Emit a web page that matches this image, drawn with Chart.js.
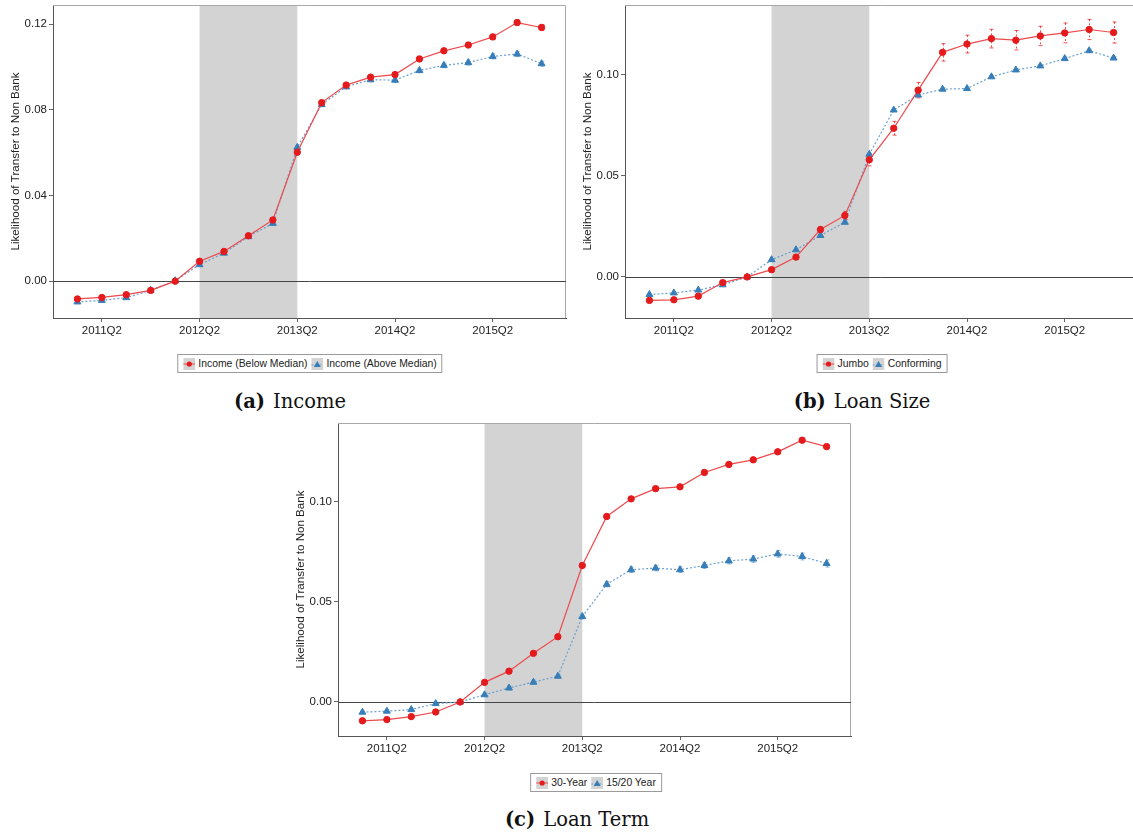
<!DOCTYPE html>
<html>
<head>
<meta charset="utf-8">
<script src="https://cdn.jsdelivr.net/npm/chart.js@4.4.1/dist/chart.umd.min.js"></script>
<style>
  html, body { margin: 0; padding: 0; background: #fff; }
  body { width: 1133px; height: 838px; position: relative; overflow: hidden; font-family: "Liberation Sans", Arial, sans-serif; }
  canvas { position: absolute; }
  .legend { position: absolute; height: 19px; box-sizing: border-box; border: 1px solid #9a9a9a; background: #fff;
            font-size: 10.4px; color: #222; display: flex; align-items: center; padding: 0 3px; white-space: nowrap; transform: translateX(-50%); }
  .legend svg { margin: 0 3px 0 2px; }
  .legend span { margin-right: 2px; }
  .caption { position: absolute; font-family: "DejaVu Serif", serif; font-size: 19.5px; color: #111; transform: translateX(-50%); white-space: nowrap; }
  .caption b { margin-right: 8px; }
</style>
</head>
<body>
<canvas id="chartA" width="572" height="348" style="left:0px;top:0px"></canvas>
<canvas id="chartB" width="580" height="348" style="left:572px;top:0px"></canvas>
<canvas id="chartC" width="572" height="348" style="left:285px;top:418px"></canvas>

<div class="legend" id="legA" style="left:310px;top:354px"></div>
<div class="legend" id="legB" style="left:882px;top:354px"></div>
<div class="legend" id="legC" style="left:596px;top:773px"></div>

<div class="caption" style="left:290px;top:390px"><b>(a)</b>Income</div>
<div class="caption" style="left:862px;top:390px"><b>(b)</b>Loan Size</div>
<div class="caption" style="left:577px;top:808px"><b>(c)</b>Loan Term</div>

<script>
const QUARTERS = ['2011Q1', '2011Q2', '2011Q3', '2011Q4', '2012Q1', '2012Q2', '2012Q3', '2012Q4',
                  '2013Q1', '2013Q2', '2013Q3', '2013Q4', '2014Q1', '2014Q2', '2014Q3', '2014Q4',
                  '2015Q1', '2015Q2', '2015Q3', '2015Q4'];
const TICK_POS = [1, 5, 9, 13, 17];
const SHADE = [5, 9];
const Y_TITLE = 'Likelihood of Transfer to Non Bank';

// (a) Income
const INC_LABELS = ['Income (Below Median)', 'Income (Above Median)'];
const INC_BELOW = [-0.0083, -0.0076, -0.0063, -0.0043, 0.0000, 0.0093, 0.0139, 0.0212, 0.0286, 0.0602,
                   0.0834, 0.0916, 0.0953, 0.0965, 0.1038, 0.1076, 0.1103, 0.1141, 0.1208, 0.1185];
const INC_BELOW_ERR = [0.0005, 0.0005, 0.0005, 0.0005, 0, 0.0006, 0.0006, 0.0007, 0.0008, 0.0010,
                       0.0010, 0.0010, 0.0011, 0.0011, 0.0012, 0.0012, 0.0012, 0.0013, 0.0013, 0.0013];
const INC_ABOVE = [-0.0097, -0.0090, -0.0077, -0.0043, 0.0002, 0.0077, 0.0131, 0.0208, 0.0270, 0.0625,
                   0.0825, 0.0908, 0.0941, 0.0939, 0.0984, 0.1008, 0.1021, 0.1050, 0.1061, 0.1016];
const INC_ABOVE_ERR = [0.0005, 0.0005, 0.0005, 0.0005, 0.0005, 0.0006, 0.0006, 0.0007, 0.0008, 0.0010,
                       0.0010, 0.0010, 0.0010, 0.0011, 0.0011, 0.0011, 0.0012, 0.0012, 0.0012, 0.0012];
const INC_Y = { min: -0.0172, max: 0.1290, ticks: [0, 0.04, 0.08, 0.12] };

// (b) Loan Size
const SIZE_LABELS = ['Jumbo', 'Conforming'];
const SIZE_JUMBO = [-0.0116, -0.0113, -0.0095, -0.0028, 0.0000, 0.0036, 0.0098, 0.0234, 0.0304, 0.0579,
                    0.0735, 0.0923, 0.1110, 0.1151, 0.1178, 0.1170, 0.1191, 0.1206, 0.1223, 0.1208];
const SIZE_JUMBO_ERR = [0.0010, 0.0010, 0.0010, 0.0010, 0, 0.0010, 0.0012, 0.0015, 0.0020, 0.0030,
                        0.0034, 0.0038, 0.0043, 0.0044, 0.0046, 0.0048, 0.0048, 0.0049, 0.0050, 0.0052];
const SIZE_CONF = [-0.0087, -0.0079, -0.0065, -0.0039, 0.0000, 0.0085, 0.0134, 0.0205, 0.0270, 0.0606,
                   0.0825, 0.0899, 0.0928, 0.0931, 0.0989, 0.1023, 0.1043, 0.1079, 0.1118, 0.1082];
const SIZE_CONF_ERR = [0.0004, 0.0004, 0.0004, 0.0004, 0, 0.0005, 0.0005, 0.0005, 0.0006, 0.0006,
                       0.0007, 0.0007, 0.0007, 0.0007, 0.0007, 0.0007, 0.0007, 0.0008, 0.0008, 0.0008];
const SIZE_Y = { min: -0.0203, max: 0.1344, ticks: [0, 0.05, 0.10] };

// (c) Loan Term
const TERM_LABELS = ['30-Year', '15/20 Year'];
const TERM_30 = [-0.0094, -0.0088, -0.0073, -0.0050, 0.0000, 0.0098, 0.0154, 0.0243, 0.0326, 0.0682,
                 0.0927, 0.1015, 0.1066, 0.1075, 0.1147, 0.1187, 0.1210, 0.1250, 0.1308, 0.1276];
const TERM_30_ERR = [0.0005, 0.0005, 0.0005, 0.0005, 0, 0.0006, 0.0006, 0.0007, 0.0007, 0.0008,
                     0.0008, 0.0009, 0.0009, 0.0009, 0.0010, 0.0010, 0.0010, 0.0011, 0.0011, 0.0011];
const TERM_1520 = [-0.0051, -0.0046, -0.0038, -0.0008, 0.0000, 0.0036, 0.0070, 0.0099, 0.0129, 0.0427,
                   0.0588, 0.0661, 0.0669, 0.0661, 0.0682, 0.0705, 0.0714, 0.0740, 0.0727, 0.0692];
const TERM_1520_ERR = [0.0006, 0.0006, 0.0006, 0.0006, 0, 0.0008, 0.0009, 0.0010, 0.0010, 0.0012,
                       0.0013, 0.0014, 0.0014, 0.0014, 0.0015, 0.0015, 0.0016, 0.0017, 0.0017, 0.0018];
const TERM_Y = { min: -0.0170, max: 0.1394, ticks: [0, 0.05, 0.10] };

const RED = '#e41a1c';
const BLUE = '#377eb8';

// shading, zero line, plot frame and error bars
const panelPlugin = {
  id: 'panel',
  beforeDatasetsDraw(chart) {
    const { ctx, chartArea: a, scales: { x, y } } = chart;
    ctx.save();
    const x0 = x.getPixelForValue(SHADE[0]);
    const x1 = x.getPixelForValue(SHADE[1]);
    ctx.fillStyle = '#d3d3d3';
    ctx.fillRect(x0, a.top, x1 - x0, a.bottom - a.top);

    ctx.strokeStyle = '#a8a8a8';
    ctx.lineWidth = 1;
    ctx.beginPath();
    ctx.moveTo(a.left, a.top + 0.5);
    ctx.lineTo(a.right - 0.5, a.top + 0.5);
    ctx.lineTo(a.right - 0.5, a.bottom);
    ctx.stroke();

    const y0 = Math.round(y.getPixelForValue(0)) + 0.5;
    ctx.strokeStyle = '#444';
    ctx.beginPath();
    ctx.moveTo(a.left, y0);
    ctx.lineTo(a.right, y0);
    ctx.stroke();

    chart.data.datasets.forEach(ds => {
      if (!ds.err) return;
      ctx.strokeStyle = ds.errColor;
      ctx.lineWidth = 1;
      ds.data.forEach((p, i) => {
        const e = ds.err[i];
        if (!e) return;
        const px = Math.round(x.getPixelForValue(p.x)) + 0.5;
        const yt = y.getPixelForValue(p.y + e);
        const yb = y.getPixelForValue(p.y - e);
        ctx.setLineDash(ds.errDash || []);
        ctx.beginPath();
        ctx.moveTo(px, yt);
        ctx.lineTo(px, yb);
        ctx.stroke();
        ctx.setLineDash([]);
        ctx.beginPath();
        ctx.moveTo(px - 2, yt);
        ctx.lineTo(px + 2, yt);
        ctx.moveTo(px - 2, yb);
        ctx.lineTo(px + 2, yb);
        ctx.stroke();
      });
    });
    ctx.restore();
  }
};

function series(vals) {
  return vals.map((v, i) => ({ x: i, y: v }));
}

// keep the plot area where it is in the picture: no extra room for overhanging labels
function noOverhang(s) {
  s.paddingTop = 0;
  s.paddingBottom = 0;
  s.paddingLeft = 0;
  s.paddingRight = 0;
}

function makeChart(id, labels, redVals, redErr, blueVals, blueErr, yr, padRight, jumbo) {
  new Chart(document.getElementById(id), {
    type: 'line',
    data: {
      datasets: [{
        label: labels[0],
        data: series(redVals),
        err: redErr,
        errColor: jumbo ? 'rgba(228,26,28,0.75)' : 'rgba(228,26,28,0.55)',
        errDash: jumbo ? [2, 2] : null,
        borderColor: '#ec4a4c',
        borderWidth: 1.2,
        pointStyle: 'circle',
        pointRadius: 3.2,
        pointBackgroundColor: RED,
        pointBorderColor: RED,
        pointBorderWidth: 1,
        order: 1,
      }, {
        label: labels[1],
        data: series(blueVals),
        err: blueErr,
        errColor: 'rgba(55,126,184,0.55)',
        borderColor: '#6a9fd0',
        borderWidth: 1.2,
        borderDash: [2, 2],
        pointStyle: 'triangle',
        pointRadius: 4,
        pointBackgroundColor: BLUE,
        pointBorderColor: BLUE,
        pointBorderWidth: 1,
        order: 2,
      }]
    },
    options: {
      responsive: false,
      animation: false,
      devicePixelRatio: 1,
      layout: { padding: { top: 3, right: padRight, left: 0, bottom: 0 } },
      plugins: { legend: { display: false }, tooltip: { enabled: false } },
      scales: {
        x: {
          type: 'linear',
          min: -1,
          max: 20,
          afterBuildTicks: s => { s.ticks = TICK_POS.map(v => ({ value: v })); },
          afterFit: s => { s.height = 30; noOverhang(s); },
          ticks: {
            callback: v => QUARTERS[v],
            color: '#222',
            font: { family: 'Liberation Sans', size: 11.5 },
            padding: 2,
            maxRotation: 0,
            autoSkip: false,
          },
          grid: { drawOnChartArea: false, tickLength: 4, color: '#666' },
          border: { color: '#555', width: 1 },
        },
        y: {
          min: yr.min,
          max: yr.max,
          afterBuildTicks: s => { s.ticks = yr.ticks.map(v => ({ value: v })); },
          afterFit: s => { s.width = 53; noOverhang(s); },
          ticks: {
            callback: v => v.toFixed(2),
            color: '#222',
            font: { family: 'Liberation Sans', size: 11.5 },
            padding: 2,
          },
          grid: { drawOnChartArea: false, tickLength: 4, color: '#666' },
          border: { color: '#555', width: 1 },
          title: {
            display: true,
            text: Y_TITLE,
            color: '#222',
            font: { family: 'Liberation Sans', size: 11.6 },
            padding: { top: 9, bottom: 0 },
          },
        }
      }
    },
    plugins: [panelPlugin]
  });
}

makeChart('chartA', INC_LABELS, INC_BELOW, INC_BELOW_ERR, INC_ABOVE, INC_ABOVE_ERR, INC_Y, 6, false);
makeChart('chartB', SIZE_LABELS, SIZE_JUMBO, SIZE_JUMBO_ERR, SIZE_CONF, SIZE_CONF_ERR, SIZE_Y, 14, true);
makeChart('chartC', TERM_LABELS, TERM_30, TERM_30_ERR, TERM_1520, TERM_1520_ERR, TERM_Y, 6, false);

// legend boxes
const MARK_RED = '<svg width="12" height="12"><rect width="12" height="12" fill="#d3d3d3"/>' +
  '<line x1="0" y1="6" x2="12" y2="6" stroke="#ec4a4c" stroke-width="1.2"/><circle cx="6" cy="6" r="2.6" fill="' + RED + '"/></svg>';
const MARK_BLUE = '<svg width="12" height="12"><rect width="12" height="12" fill="#d3d3d3"/>' +
  '<line x1="0" y1="7" x2="12" y2="7" stroke="#6a9fd0" stroke-width="1.2" stroke-dasharray="2 2"/><polygon points="6,3 9.5,9 2.5,9" fill="' + BLUE + '"/></svg>';

function fillLegend(id, labels) {
  document.getElementById(id).innerHTML =
    MARK_RED + '<span>' + labels[0] + '</span>' + MARK_BLUE + '<span>' + labels[1] + '</span>';
}
fillLegend('legA', INC_LABELS);
fillLegend('legB', SIZE_LABELS);
fillLegend('legC', TERM_LABELS);
</script>
</body>
</html>
